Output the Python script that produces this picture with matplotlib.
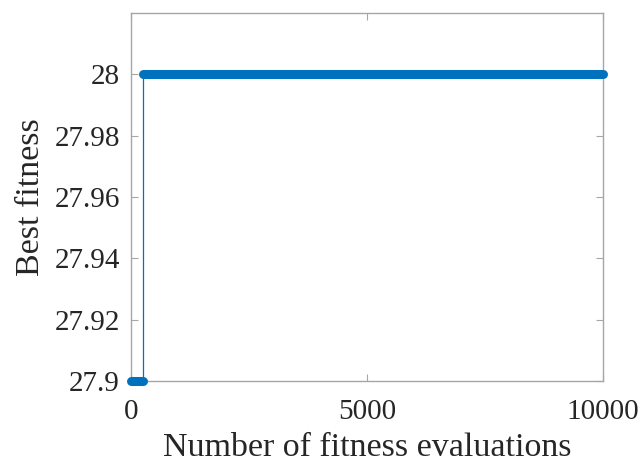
import numpy as np
import matplotlib.pyplot as plt

plt.rcParams['font.family'] = ['Liberation Serif', 'DejaVu Serif']

# best fitness found so far, recorded where it changes
step_evals = [1, 254, 254, 10000]
step_fitness = [27.9, 27.9, 28.0, 28.0]

# plateaus drawn as thick marker bands
plateau_start = [1, 254]
plateau_end = [254, 10000]
plateau_level = [27.9, 28.0]

xticks = [0, 5000, 10000]
yticks = [27.9, 27.92, 27.94, 27.96, 27.98, 28.0]
yticklabels = ['27.9', '27.92', '27.94', '27.96', '27.98', '28']

blue = '#0072BD'
grey = '#A6A6A6'
txt = '#262626'

fig = plt.figure(figsize=(6.42, 4.63), dpi=100)
ax = fig.add_axes([131/642, 1 - 381/463, (603-131)/642, (381-13)/463])

ax.plot(step_evals, step_fitness, color=blue, lw=0.9, zorder=2)
for s, e, lv in zip(plateau_start, plateau_end, plateau_level):
    ax.plot([s, e], [lv, lv], color=blue, lw=6.5, solid_capstyle='round',
            zorder=3, clip_on=False)

ax.set_xlim(0, 10000)
ax.set_ylim(27.9, 28.02)
ax.set_xticks(xticks)
ax.set_yticks(yticks)
ax.set_yticklabels(yticklabels)

for sp in ax.spines.values():
    sp.set_color(grey)
    sp.set_linewidth(1.0)
ax.tick_params(direction='in', top=True, right=True, color=grey, length=5,
               labelsize=21, labelcolor=txt)
ax.tick_params(axis='x', pad=13)
ax.tick_params(axis='y', pad=8)

ax.set_xlabel('Number of fitness evaluations', fontsize=24.5, color=txt, labelpad=5)
ax.set_ylabel('Best fitness', fontsize=24.5, color=txt, labelpad=6)

fig.savefig('out.png', dpi=100, facecolor='white')
